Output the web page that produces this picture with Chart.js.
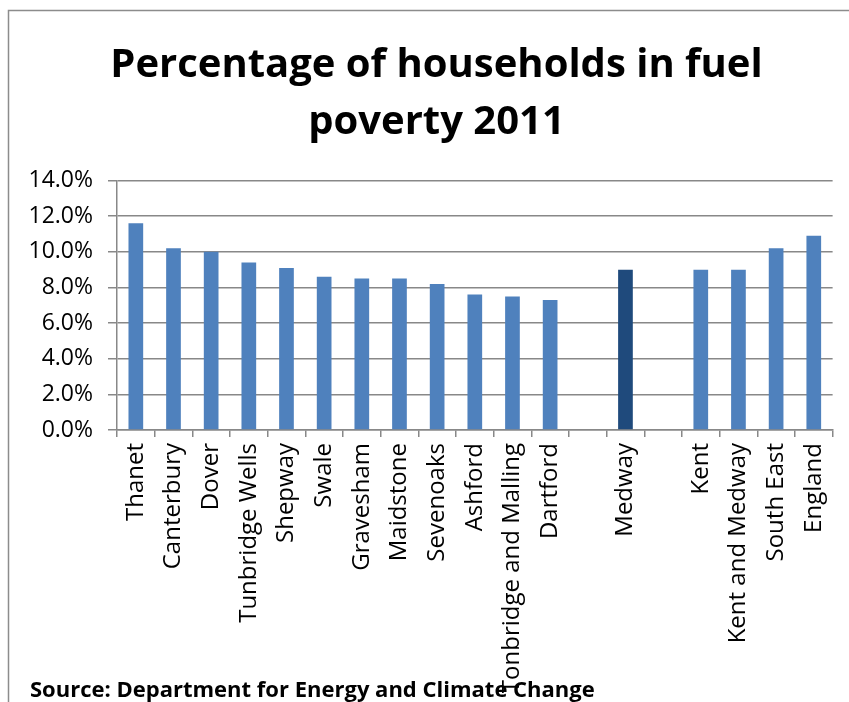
<!DOCTYPE html>
<html>
<head>
<meta charset="utf-8">
<script src="https://cdn.jsdelivr.net/npm/chart.js@4/dist/chart.umd.min.js"></script>
<style>
  body { margin: 0; background: #fff; }
  canvas { display: block; }
</style>
</head>
<body>
<canvas id="povertyChart" width="849" height="702"></canvas>
<script>
const areas = ['Thanet', 'Canterbury', 'Dover', 'Tunbridge Wells', 'Shepway', 'Swale', 'Gravesham',
  'Maidstone', 'Sevenoaks', 'Ashford', 'Tonbridge and Malling', 'Dartford', '', 'Medway', '',
  'Kent', 'Kent and Medway', 'South East', 'England'];
const fuelPoverty = [11.6, 10.2, 10.0, 9.4, 9.1, 8.6, 8.5, 8.5, 8.2, 7.6, 7.5, 7.3, null, 9.0, null,
  9.0, 9.0, 10.2, 10.9];
const highlightArea = 'Medway';
const titleLines = ['Percentage of households in fuel', 'poverty 2011'];
const sourceNote = 'Source: Department for Energy and Climate Change';

const gridGrey = '#888888';
const textFont = "'Open Sans', sans-serif";

// frame around the chart, title centring and the source line at the bottom
const framePlugin = {
  id: 'frame',
  afterLayout(chart) {
    // excel centres the title on the whole frame, which runs off the right edge
    chart.titleBlock.right = 853;
  },
  beforeDraw(chart) {
    const ctx = chart.ctx;
    ctx.save();
    ctx.strokeStyle = '#8c8c8c';
    ctx.lineWidth = 1.5;
    ctx.beginPath();
    ctx.moveTo(8.5, chart.height);
    ctx.lineTo(8.5, 10.5);
    ctx.lineTo(chart.width, 10.5);
    ctx.stroke();
    ctx.restore();
  },
  afterDraw(chart) {
    const ctx = chart.ctx;
    ctx.save();
    ctx.fillStyle = '#000';
    ctx.font = "bold 22px " + textFont;
    ctx.textBaseline = 'alphabetic';
    ctx.fillText(sourceNote, 30, 697);
    ctx.restore();
  }
};

new Chart(document.getElementById('povertyChart'), {
  type: 'bar',
  data: {
    labels: areas,
    datasets: [{
      data: fuelPoverty,
      backgroundColor: areas.map(a => a === highlightArea ? '#1f4a7c' : '#4f81bd'),
      categoryPercentage: 1,
      barPercentage: 0.39,
    }],
  },
  options: {
    responsive: false,
    animation: false,
    layout: { padding: { left: 20, right: 16, top: 0, bottom: 0 } },
    plugins: {
      legend: { display: false },
      tooltip: { enabled: false },
      title: {
        display: true,
        text: titleLines,
        color: '#000',
        font: { family: textFont, size: 40, weight: 'bold', lineHeight: 1.42 },
        padding: { top: 37, bottom: 30 },
      },
    },
    scales: {
      y: {
        min: 0,
        max: 14,
        ticks: {
          stepSize: 2,
          color: '#000',
          padding: 15,
          font: { family: textFont, size: 23 },
          callback: v => v.toFixed(1) + '%',
        },
        grid: { color: gridGrey, lineWidth: 1.5, tickLength: 9 },
        border: { color: gridGrey, width: 1.5 },
        afterFit: scale => { scale.width = 97; },
      },
      x: {
        offset: true,
        ticks: {
          color: '#000',
          autoSkip: false,
          minRotation: 90,
          maxRotation: 90,
          padding: 6,
          font: { family: textFont, size: 24 },
        },
        grid: { display: true, drawOnChartArea: false, offset: true, color: gridGrey, lineWidth: 1.5, tickLength: 7 },
        border: { color: gridGrey, width: 1.5 },
        afterFit: scale => { scale.height = 272; },
      },
    },
  },
  plugins: [framePlugin],
});
</script>
</body>
</html>
